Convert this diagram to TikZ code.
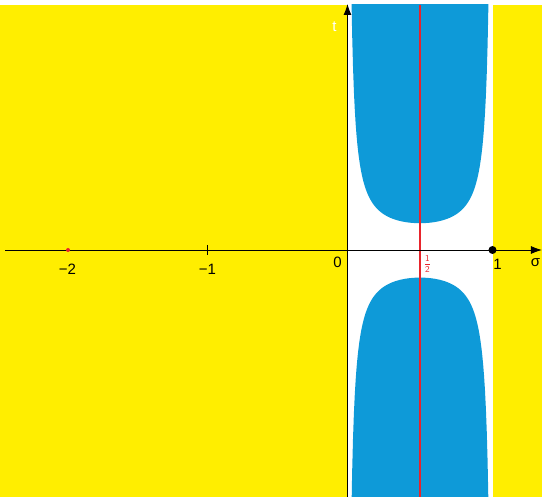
\documentclass[tikz,border=0pt]{standalone}
\usepackage{fontspec}
\setmainfont{Liberation Sans}
\usetikzlibrary{arrows.meta}
\definecolor{zonegelb}{RGB}{255,238,0}
\definecolor{zoneblau}{RGB}{14,154,216}
\definecolor{linierot}{RGB}{232,36,44}
\begin{document}
\begin{tikzpicture}[x=1pt,y=1pt,
		achse/.style={black, line width=0.9pt},
		pfeil/.style={-{Latex[length=11pt,width=8pt]}},
		zahl/.style={font=\fontsize{15}{18}\selectfont, inner sep=0pt}]
	\useasboundingbox (-347.5,-247) rectangle (194.5,250);
	% Flaechen
	\fill[zonegelb](-347.5,-247) rectangle (-0.5,245);
	\fill[zonegelb](145.5,-247) rectangle (194.5,245);
	\begin{scope}
		\clip (0,-247) rectangle (145,245);
		\fill[zoneblau] plot[domain=0.02:0.98, samples=160] ({145*\x},{6.7/(\x*(1-\x))}) -- cycle;
		\fill[zoneblau] plot[domain=0.02:0.98, samples=160] ({145*\x},{-6.9/(\x*(1-\x))}) -- cycle;
	\end{scope}
	% kritische Gerade
	\coordinate (ro) at (72.5,245);
	\coordinate (ru) at (72.5,-247);
	\draw[linierot, line width=1.6pt](ro) -- (ru);
	% Achsen
	\coordinate (O) at (0,0);
	\coordinate (sl) at (-342,0);
	\coordinate (sr) at (194.5,0);
	\coordinate (tu) at (0,-247);
	\coordinate (to) at (0,246);
	\draw[achse, pfeil](sl) -- (sr);
	\draw[achse, pfeil](tu) -- (to);
	\coordinate (m1o) at (-140,5);
	\coordinate (m1u) at (-140,-5);
	\draw[achse](m1o) -- (m1u);
	\fill[linierot](-279.5,0) circle(2);
	\fill(145,0) circle(4);
	% Beschriftung
	\node[zahl] (n0) at (-10,-12) {0};
	\node[zahl] (nm1) at (-140,-19) {−1};
	\node[zahl] (nm2) at (-280,-19) {−2};
	\node[zahl] (n1) at (150,-14) {1};
	\node[zahl] (ns) at (188,-13) {σ};
	\node[zahl, white] (nt) at (-13,223) {t};
	\node[linierot, inner sep=0pt, font=\fontsize{9}{10}\selectfont] (nh) at (80,-14) {$\displaystyle\frac{\mathsf{1}}{\mathsf{2}}$};
\end{tikzpicture}
\end{document}
